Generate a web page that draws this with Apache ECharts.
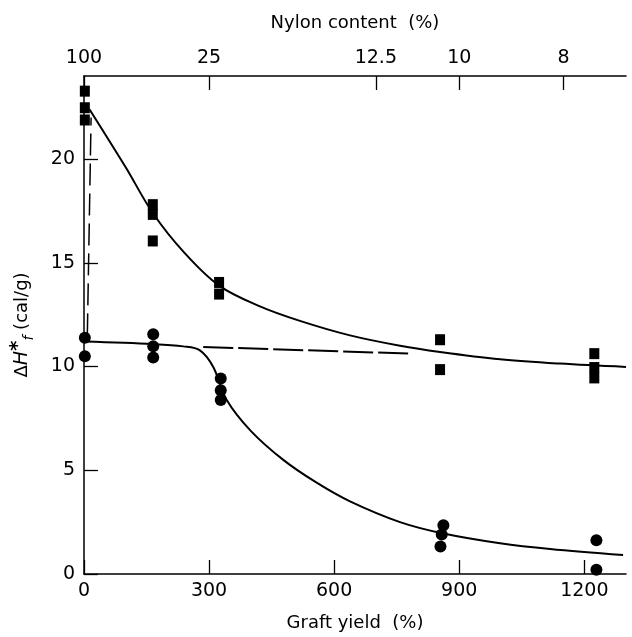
<!DOCTYPE html>
<html>
<head>
<meta charset="utf-8">
<script src="https://cdn.jsdelivr.net/npm/echarts@6/dist/echarts.min.js"></script>
<style>html,body{margin:0;padding:0;background:#fff}#c{width:632px;height:637px}</style>
</head>
<body>
<div id="c"></div>
<script>
// Graft yield (%) vs ΔH*f (cal/g)
const squarePoints = [
  [2, 23.27], [2, 22.47], [2, 21.88],
  [165, 17.8], [165, 17.33], [165, 16.05],
  [324, 14.05], [324, 13.49],
  [854, 11.29], [854, 9.85],
  [1224, 10.62], [1224, 9.95], [1224, 9.45]
];
const circlePoints = [
  [2, 11.38], [2, 10.49],
  [166, 11.55], [166, 10.97], [166, 10.43],
  [328, 9.42], [328, 8.86], [328, 8.38],
  [862, 2.35], [858, 1.9], [855, 1.32],
  [1229, 1.63], [1229, 0.2]
];
const upperCurve = [
  [13, 22.4], [100, 19.6], [165, 17.4], [240, 15.5], [324, 13.9], [422, 12.9],
  [518, 12.2], [638, 11.5], [758, 11.0], [854, 10.7], [998, 10.35], [1141, 10.14], [1300, 9.98]
];
const lowerCurve = [
  [0, 11.2], [166, 11.08], [238, 10.97], [278, 10.78], [310, 9.98],
  [342, 8.4], [400, 6.9], [478, 5.5], [558, 4.4], [638, 3.5], [758, 2.5],
  [862, 1.95], [998, 1.48], [1118, 1.2], [1293, 0.91]
];
const dashedVertical = [[8, 11.5], [17, 22.0]];
const dashedHorizontal = [[286, 10.94], [782, 10.62]];
const bottomTicks = [0, 300, 600, 900, 1200];
const nylonTickPositions = [0, 300, 700, 900, 1150];
const nylonTickLabels = ['100', '25', '12.5', '10', '8'];
const yTicks = [0, 5, 10, 15, 20];

const FONT = 'DejaVu Sans';
const chart = echarts.init(document.getElementById('c'), null, {renderer: 'canvas'});
const axisCommon = {
  axisLine: {show: true, lineStyle: {color: '#000', width: 1.5}},
  axisTick: {show: true, inside: true, length: 14, lineStyle: {color: '#000', width: 1.3}},
  splitLine: {show: false},
  axisLabel: {color: '#000', fontFamily: FONT, fontSize: 19}
};
chart.setOption({
  backgroundColor: '#fff',
  animation: false,
  grid: {left: 84, right: 6, top: 76, bottom: 59},
  xAxis: [
    {
      type: 'value', position: 'bottom', min: 0, max: 1300,
      name: 'Graft yield  (%)', nameLocation: 'middle', nameGap: 40,
      nameTextStyle: {color: '#000', fontFamily: FONT, fontSize: 18},
      axisLine: axisCommon.axisLine,
      axisTick: Object.assign({}, axisCommon.axisTick, {customValues: bottomTicks}),
      axisLabel: Object.assign({}, axisCommon.axisLabel, {customValues: bottomTicks, margin: 8,
        formatter: v => String(v)}),
      splitLine: {show: false}
    },
    {
      type: 'value', position: 'top', min: 0, max: 1300,
      name: 'Nylon content  (%)', nameLocation: 'middle', nameGap: 44,
      nameTextStyle: {color: '#000', fontFamily: FONT, fontSize: 18},
      axisLine: axisCommon.axisLine,
      axisTick: Object.assign({}, axisCommon.axisTick, {customValues: nylonTickPositions}),
      axisLabel: Object.assign({}, axisCommon.axisLabel, {
        customValues: nylonTickPositions, margin: 8,
        formatter: v => nylonTickLabels[nylonTickPositions.indexOf(v)]
      }),
      splitLine: {show: false}
    }
  ],
  yAxis: {
    type: 'value', min: 0, max: 24,
    name: '{a|Δ}{h|H}{s|*}{f|f}{a| (cal/g)}', nameLocation: 'middle', nameGap: 48, nameRotate: 90,
    nameTextStyle: {
      color: '#000', fontFamily: FONT, fontSize: 18,
      rich: {
        a: {fontFamily: FONT, fontSize: 18, color: '#000', lineHeight: 28},
        h: {fontFamily: FONT, fontSize: 19, fontStyle: 'italic', color: '#000', lineHeight: 28},
        s: {fontFamily: FONT, fontSize: 20, fontWeight: 'bold', color: '#000', verticalAlign: 'top', lineHeight: 28},
        f: {fontFamily: FONT, fontSize: 14, fontStyle: 'italic', color: '#000', verticalAlign: 'bottom', lineHeight: 28}
      }
    },
    axisLine: axisCommon.axisLine,
    axisTick: Object.assign({}, axisCommon.axisTick, {customValues: yTicks}),
    axisLabel: Object.assign({}, axisCommon.axisLabel, {customValues: yTicks, margin: 9}),
    splitLine: {show: false}
  },
  series: [
    {type: 'line', data: upperCurve, smooth: 0.35, showSymbol: false, symbol: 'none',
     lineStyle: {color: '#000', width: 2}, z: 2},
    {type: 'line', data: lowerCurve, smooth: 0.35, showSymbol: false, symbol: 'none',
     lineStyle: {color: '#000', width: 2}, z: 2},
    {type: 'line', data: dashedVertical, symbol: 'none',
     lineStyle: {color: '#000', width: 1.5, type: [22, 8]}, z: 2},
    {type: 'line', data: dashedHorizontal, symbol: 'none',
     lineStyle: {color: '#000', width: 2, type: [30, 5]}, z: 2},
    {type: 'scatter', data: squarePoints, symbol: 'rect', symbolSize: [10, 11],
     itemStyle: {color: '#000', opacity: 1}, z: 3},
    {type: 'scatter', data: circlePoints, symbol: 'circle', symbolSize: 12,
     itemStyle: {color: '#000', opacity: 1}, z: 3}
  ]
});
</script>
</body>
</html>
